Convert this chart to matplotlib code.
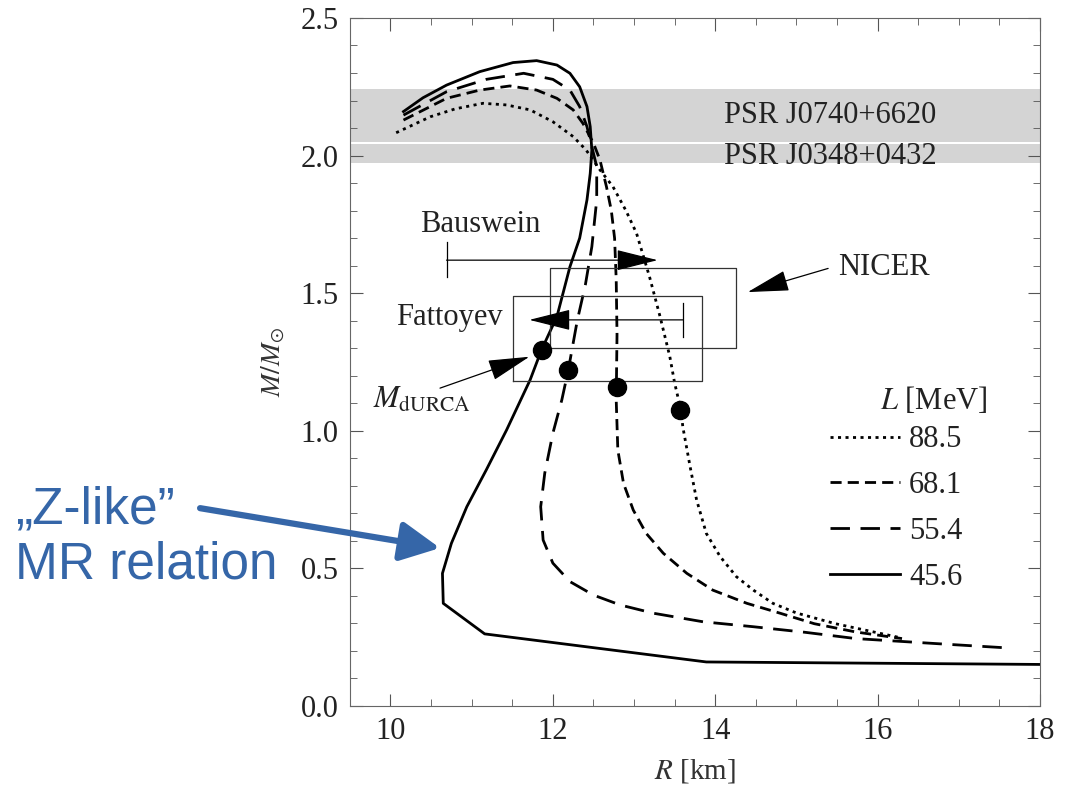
import matplotlib
matplotlib.use("Agg")
import matplotlib.pyplot as plt
from matplotlib.ticker import MultipleLocator, FormatStrFormatter

plt.rcParams['font.family'] = ['Liberation Serif', 'DejaVu Serif']
plt.rcParams['mathtext.fontset'] = 'stix'

# mass-radius curves, one per slope parameter L [MeV]
r_885 = [10.07, 10.49, 10.80, 11.14, 11.43, 11.72, 12.00, 12.25, 12.41, 12.58, 12.74, 12.90, 13.03,
         13.19, 13.32, 13.44, 13.50, 13.58, 13.60, 13.69, 13.77, 13.89, 14.06, 14.26, 14.47, 14.71,
         15.00, 15.48, 16.25]
m_885 = [2.083, 2.141, 2.170, 2.190, 2.184, 2.166, 2.123, 2.069, 2.020, 1.948, 1.887, 1.800, 1.718,
         1.560, 1.415, 1.270, 1.173, 1.072, 1.015, 0.870, 0.749, 0.627, 0.543, 0.470, 0.421, 0.373,
         0.338, 0.299, 0.250]

r_681 = [10.16, 10.69, 11.10, 11.47, 11.80, 12.05, 12.25, 12.37, 12.50, 12.58, 12.66, 12.72, 12.76,
         12.78, 12.79, 12.78, 12.80, 12.87, 12.99, 13.15, 13.36, 13.65, 13.97, 14.39, 14.80, 15.22,
         15.73, 16.30]
m_681 = [2.129, 2.208, 2.238, 2.253, 2.238, 2.208, 2.166, 2.117, 2.045, 1.984, 1.887, 1.800, 1.700,
         1.550, 1.350, 1.112, 0.930, 0.809, 0.712, 0.627, 0.555, 0.482, 0.421, 0.373, 0.337, 0.299,
         0.269, 0.245]

r_554 = [10.16, 10.69, 11.18, 11.64, 12.00, 12.21, 12.33, 12.42, 12.48, 12.54, 12.54, 12.48, 12.40,
         12.30, 12.19, 12.11, 12.00, 11.90, 11.85, 11.88, 12.00, 12.21, 12.50, 12.83, 13.24, 13.85,
         14.47, 15.10, 15.73, 16.76, 17.60]
m_554 = [2.147, 2.232, 2.277, 2.299, 2.277, 2.238, 2.178, 2.105, 2.032, 1.960, 1.839, 1.669, 1.530,
         1.400, 1.221, 1.112, 0.991, 0.846, 0.724, 0.603, 0.519, 0.452, 0.403, 0.367, 0.337, 0.306,
         0.288, 0.268, 0.245, 0.226, 0.211]

r_456 = [10.16, 10.40, 10.69, 11.10, 11.51, 11.80, 12.05, 12.21, 12.33, 12.42, 12.46, 12.48, 12.46,
         12.42, 12.33, 12.21, 12.05, 11.86, 11.72, 11.43, 11.18, 10.94, 10.75, 10.64, 10.65, 11.16,
         13.89, 18.00]
m_456 = [2.160, 2.210, 2.256, 2.305, 2.338, 2.345, 2.329, 2.299, 2.250, 2.178, 2.105, 2.020, 1.935,
         1.839, 1.700, 1.596, 1.415, 1.294, 1.185, 1.003, 0.858, 0.724, 0.591, 0.482, 0.373, 0.262,
         0.160, 0.151]

# direct URCA onset masses
r_durca = [11.86, 12.19, 12.79, 13.56]
m_durca = [1.294, 1.221, 1.160, 1.076]

L_labels = ['88.5', '68.1', '55.4', '45.6']

# pulsar mass bands (lo, hi) and labels
bands = [(2.048, 2.242), (1.972, 2.043)]
band_labels = ['PSR J0740+6620', 'PSR J0348+0432']

# radius constraints
nicer_box = (11.96, 14.25, 1.30, 1.59)
fattoyev_box = (11.51, 13.84, 1.18, 1.49)

fig = plt.figure(figsize=(10.7, 7.99), dpi=100)
ax = fig.add_axes([0.327, 0.1164, 0.645, 0.8611])

for lo, hi in bands:
    ax.axhspan(lo, hi, color='#d4d4d4', lw=0, zorder=0)
ax.text(14.11, 2.145, band_labels[0], fontsize=22, va='center', color='#222')
ax.text(14.11, 1.995, band_labels[1], fontsize=22, va='center', color='#222')

k = 'k'
lw = 2.0
ax.plot(r_885, m_885, color=k, lw=lw, ls=(0, (1.1, 1.6)), label=L_labels[0])
ax.plot(r_681, m_681, color=k, lw=lw, ls=(0, (4.0, 2.2)), label=L_labels[1])
ax.plot(r_554, m_554, color=k, lw=lw, ls=(0, (7.0, 3.8)), label=L_labels[2])
ax.plot(r_456, m_456, color=k, lw=lw, ls='-', label=L_labels[3])
ax.plot(r_durca, m_durca, 'o', color=k, ms=13, zorder=5)

for x0, x1, y0, y1 in [nicer_box, fattoyev_box]:
    ax.plot([x0, x1, x1, x0, x0], [y0, y0, y1, y1, y0], color='#333', lw=0.9)

head = dict(arrowstyle='-|>,head_length=1.2,head_width=0.3', color=k, lw=0.9,
            mutation_scale=22, shrinkA=0, shrinkB=0)
# Bauswein
ax.annotate('', xy=(13.29, 1.62), xytext=(10.69, 1.62), arrowprops=head)
ax.plot([10.69, 10.69], [1.56, 1.687], color=k, lw=0.9)
ax.text(11.1, 1.75, 'Bauswein', fontsize=22, ha='center', va='center', color='#222')
# Fattoyev
ax.annotate('', xy=(11.71, 1.403), xytext=(13.60, 1.403), arrowprops=head)
ax.plot([13.60, 13.60], [1.342, 1.464], color=k, lw=0.9)
ax.text(11.38, 1.413, 'Fattoyev', fontsize=22, ha='right', va='center', color='#222')
# NICER
ax.annotate('', xy=(14.4, 1.504), xytext=(15.39, 1.59), arrowprops=head)
ax.text(15.51, 1.595, 'NICER', fontsize=22, ha='left', va='center', color='#222')
# M_dURCA
ax.annotate('', xy=(11.71, 1.269), xytext=(10.61, 1.155), arrowprops=head)
ax.text(10.39, 1.11, r'$M_{\mathrm{dURCA}}$', fontsize=22, ha='center', va='center', color='#222')

leg = ax.legend(loc='upper left', bbox_to_anchor=(0.695, 0.408), frameon=False, fontsize=22,
                handlelength=2.3, handletextpad=0.3, labelspacing=0.55, borderpad=0,
                borderaxespad=0)
for t in leg.get_texts():
    t.set_color('#222')
ax.text(16.69, 1.11, r'$L$ [MeV]', fontsize=22, ha='center', va='center', color='#222')

ax.set_xlim(9.5, 18)
ax.set_ylim(0, 2.5)
ax.xaxis.set_major_locator(MultipleLocator(2))
ax.xaxis.set_minor_locator(MultipleLocator(0.5))
ax.yaxis.set_major_locator(MultipleLocator(0.5))
ax.yaxis.set_minor_locator(MultipleLocator(0.1))
ax.yaxis.set_major_formatter(FormatStrFormatter('%.1f'))
ax.tick_params(which='both', direction='in', top=True, right=True, color='#555',
               labelsize=22, labelcolor='#222')
ax.tick_params(which='major', length=9, pad=8)
ax.tick_params(which='minor', length=5)
for s in ax.spines.values():
    s.set_color('#666')
ax.set_xlabel(r'$R$ [km]', fontsize=21, color='#333', labelpad=8)
ax.set_ylabel(r'$M/M_{\odot}$', fontsize=20, color='#333', labelpad=10)

# slide annotation
blue = '#3566a8'
fig.text(0.014, 0.362, '\u201eZ-like\u201d', fontsize=37, color=blue, family='Liberation Sans',
         va='center', ha='left')
fig.text(0.014, 0.293, 'MR relation', fontsize=37, color=blue, family='Liberation Sans',
         va='center', ha='left')
ax.annotate('', xy=(10.61, 0.574), xycoords='data', xytext=(0.187, 0.364),
            textcoords='figure fraction', annotation_clip=False,
            arrowprops=dict(arrowstyle='-|>,head_length=0.6,head_width=0.3', color=blue,
                            lw=4.5, mutation_scale=40, shrinkA=0, shrinkB=0))

fig.savefig('out.png', dpi=100)
